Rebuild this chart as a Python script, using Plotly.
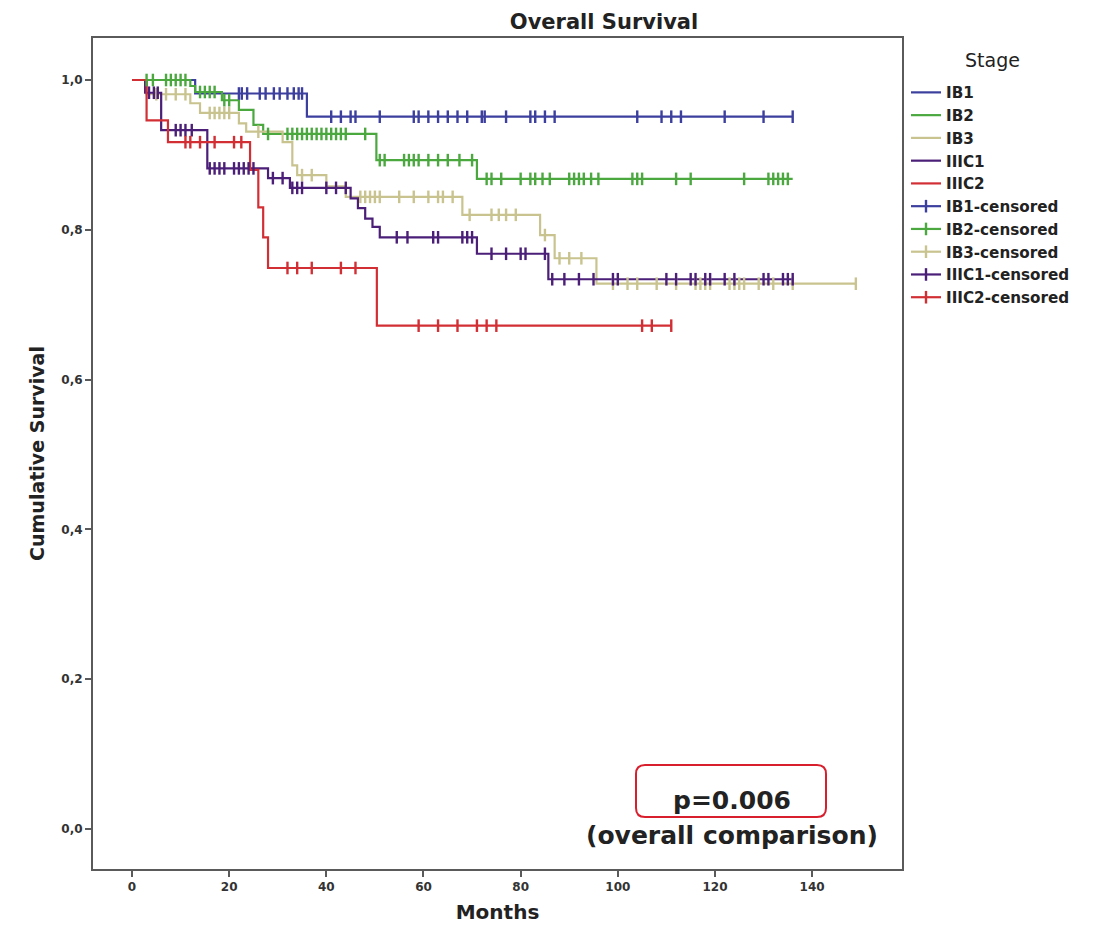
import plotly.graph_objects as go

# ---------------- data ----------------
groups = ["IB1", "IB2", "IB3", "IIIC1", "IIIC2"]
colors = ["#3c3f9e", "#4aa83f", "#c9c48f", "#4b1e78", "#d22f35"]

# event (drop) times and survival after each drop
ib1_t = [13, 36]
ib1_s = [0.982, 0.951]
ib1_end = 136
ib1_cens = [22, 22.6, 23.7, 26.3, 27.5, 29.2, 30.4, 32, 33.3, 34.3, 35,
            41, 43, 45, 46, 51, 58, 59, 61, 63, 65, 67, 69, 72, 72.6, 77, 82, 83, 85, 87,
            104, 109, 111, 113, 122, 130, 136]

ib2_t = [12, 13, 18.5, 22, 25, 27, 50.3, 71]
ib2_s = [0.992, 0.984, 0.973, 0.960, 0.940, 0.928, 0.893, 0.868]
ib2_end = 136
ib2_cens = [3, 4.3, 7, 8, 9, 10, 11, 14, 15, 16, 17, 19, 20,
            28, 32, 33, 34, 35, 36, 37, 38, 39, 40, 41, 42, 43, 44, 48,
            51, 52, 56, 57, 58, 59, 61, 63, 65, 67.4, 70,
            73, 74, 76, 80, 82, 83, 84.5, 86, 90, 91, 92, 93, 94.5, 96, 103, 104, 105,
            112, 115, 126, 131, 132, 133, 134, 135]

ib3_t = [3, 12, 14, 22, 23.5, 31, 33, 34, 40, 44, 68, 84, 87, 95.6]
ib3_s = [0.981, 0.969, 0.956, 0.942, 0.931, 0.917, 0.886, 0.873, 0.858, 0.844,
         0.820, 0.793, 0.762, 0.728]
ib3_end = 149
ib3_cens = [5, 7, 9, 11, 16, 17, 18, 19, 20, 26, 35, 37,
            47, 48, 49, 50, 51, 55, 58, 61, 63, 64, 66,
            69.5, 74, 75.5, 77, 79, 85, 88, 90, 92.5,
            99, 102, 104, 108, 112, 116, 117, 118, 119, 123, 124, 125, 126, 129, 132, 136, 149]

iiic1_t = [2.7, 6, 15.5, 28, 32.5, 45, 46.5, 48, 49.5, 51, 71, 85.7]
iiic1_s = [0.983, 0.933, 0.882, 0.869, 0.856, 0.842, 0.829, 0.815, 0.804, 0.790, 0.768, 0.734]
iiic1_end = 136
iiic1_cens = [3.5, 4.5, 5.3, 9, 10, 11, 12.3, 16, 17, 18, 19, 21, 22, 23, 24, 25,
              29, 31, 33, 34, 35, 40, 42, 44,
              54.5, 56.7, 62, 63, 68, 69, 70, 74, 77, 80, 81, 85,
              86.5, 89, 92, 95, 99, 100, 110, 112, 115, 116, 118, 119, 122, 124,
              130, 131, 134, 135, 136]

iiic2_t = [3, 7.4, 24.3, 26, 27, 28, 50.4]
iiic2_s = [0.946, 0.917, 0.880, 0.830, 0.790, 0.749, 0.672]
iiic2_end = 111
iiic2_cens = [11, 12, 14, 17, 21, 22.5, 32, 34, 37, 43, 46,
              59, 63, 67, 71, 73, 75, 105, 107, 111]

event_times = [ib1_t, ib2_t, ib3_t, iiic1_t, iiic2_t]
event_surv = [ib1_s, ib2_s, ib3_s, iiic1_s, iiic2_s]
end_times = [ib1_end, ib2_end, ib3_end, iiic1_end, iiic2_end]
censor_times = [ib1_cens, ib2_cens, ib3_cens, iiic1_cens, iiic2_cens]

x_ticks = [0, 20, 40, 60, 80, 100, 120, 140]
y_ticks = [0.0, 0.2, 0.4, 0.6, 0.8, 1.0]


def surv_at(t, times, surv):
    s = 1.0
    for tt, ss in zip(times, surv):
        if t >= tt:
            s = ss
    return s


fig = go.Figure()

# step curves
for g, c, et, es, end in zip(groups, colors, event_times, event_surv, end_times):
    xs = [0] + list(et) + [end]
    ys = [1.0] + list(es) + [es[-1]]
    fig.add_trace(go.Scatter(x=xs, y=ys, mode="lines", line_shape="hv",
                             line=dict(color=c, width=2.2), name=g, legendgroup=g))

# censored marks
for g, c, et, es, ct in zip(groups, colors, event_times, event_surv, censor_times):
    xs, ys = [], []
    for t in ct:
        xs += [t, None]
        ys += [surv_at(t, et, es), None]
    fig.add_trace(go.Scatter(x=xs, y=ys, mode="lines+markers", connectgaps=False,
                             line=dict(color=c, width=2.2),
                             marker=dict(symbol="line-ns-open", size=9,
                                         line=dict(color=c, width=2.4)),
                             name=g + "-censored", legendgroup=g + "c"))

# ---------------- layout ----------------
OFF = 8                      # page body margin
W, H = 1107 - OFF, 933 - OFF
L, R, T, B = 93 - OFF, W - (902 - OFF), 38 - OFF, H - (869 - OFF)
pw, ph = W - L - R, H - T - B

FONT = "DejaVu Sans"
frame = "#5a5a5a"
tickfont = dict(family=FONT, size=12, color="#333", weight="bold")

fig.update_xaxes(range=[-8.03, 158.5], tickvals=x_ticks, ticks="outside", ticklen=6,
                 tickwidth=2, tickcolor=frame, showline=True, linecolor=frame, linewidth=2,
                 mirror=True, showgrid=False, zeroline=False, tickfont=tickfont,
                 title=dict(text="Months", standoff=12,
                            font=dict(family=FONT, size=20, color="#222", weight="bold")))
fig.update_yaxes(range=[-0.0535, 1.0561], tickvals=y_ticks, tickformat=".1f", ticks="outside",
                 ticklen=6, tickwidth=2, tickcolor=frame, showline=True, linecolor=frame,
                 linewidth=2, mirror=True, showgrid=False, zeroline=False, tickfont=tickfont,
                 title=dict(text="Cumulative Survival", standoff=12,
                            font=dict(family=FONT, size=19, color="#222", weight="bold")))


def px2paper_x(px):
    return (px - OFF - L) / pw


def px2paper_y(py):
    return (H - B - (py - OFF)) / ph


# rounded red box around p-value
x0, x1 = px2paper_x(636), px2paper_x(826)
y0, y1 = px2paper_y(817), px2paper_y(765)
rx, ry = 9 / pw, 9 / ph
path = (f"M {x0+rx},{y0} L {x1-rx},{y0} Q {x1},{y0} {x1},{y0+ry} "
        f"L {x1},{y1-ry} Q {x1},{y1} {x1-rx},{y1} L {x0+rx},{y1} Q {x0},{y1} {x0},{y1-ry} "
        f"L {x0},{y0+ry} Q {x0},{y0} {x0+rx},{y0} Z")
fig.add_shape(type="path", path=path, xref="paper", yref="paper",
              line=dict(color="#d81f2e", width=2))

annfont = dict(family=FONT, size=25, color="#222", weight="bold")
fig.add_annotation(text="p=0.006", xref="paper", yref="paper", x=px2paper_x(732),
                   y=px2paper_y(800), showarrow=False, font=annfont,
                   xanchor="center", yanchor="middle")
fig.add_annotation(text="(overall comparison)", xref="paper", yref="paper",
                   x=px2paper_x(732), y=px2paper_y(835), showarrow=False, font=annfont,
                   xanchor="center", yanchor="middle")
fig.add_annotation(text="Stage", xref="paper", yref="paper",
                   x=px2paper_x(992), y=px2paper_y(60), showarrow=False,
                   font=dict(family=FONT, size=19, color="#222"),
                   xanchor="center", yanchor="middle")

fig.update_layout(
    width=W, height=H, autosize=False,
    margin=dict(l=L, r=R, t=T, b=B),
    paper_bgcolor="white", plot_bgcolor="white",
    separators=",.",
    title=dict(text="Overall Survival", xref="container", yref="container",
               x=(604 - OFF) / W, y=1 - (22 - OFF) / H, xanchor="center", yanchor="middle",
               font=dict(family=FONT, size=21, color="#222", weight="bold")),
    legend=dict(x=px2paper_x(906), xanchor="left", y=px2paper_y(76), yanchor="top",
                font=dict(family=FONT, size=15.2, color="#222", weight="bold"),
                tracegroupgap=0, itemwidth=30, bgcolor="rgba(0,0,0,0)"),
    showlegend=True,
)

fig.write_html("out.html")
